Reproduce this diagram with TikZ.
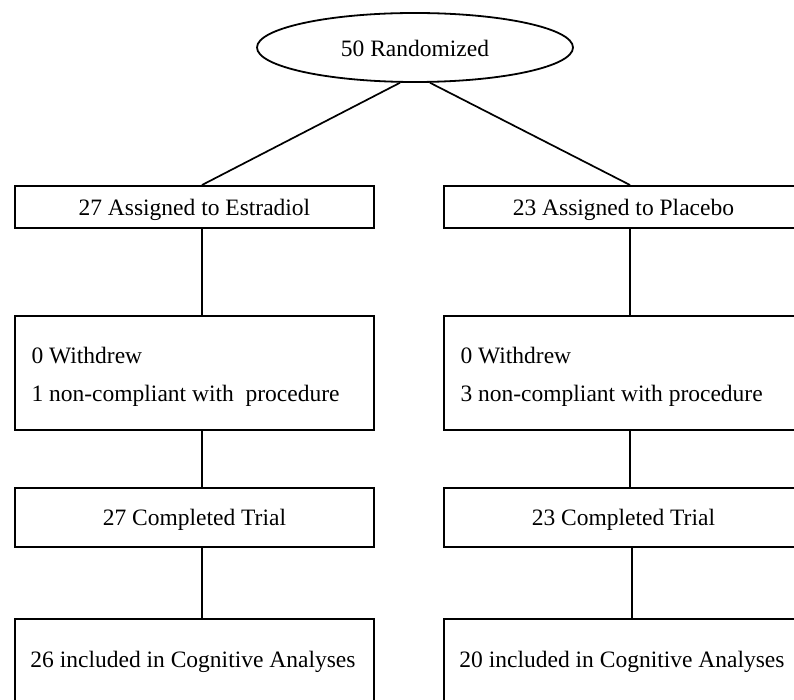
\documentclass[tikz,border=0pt]{standalone}
\usepackage{fontspec}
\setmainfont{Liberation Serif}
\usetikzlibrary{shapes.geometric}
\begin{document}
\begin{tikzpicture}[x=1pt,y=-1pt,
  every node/.style={font=\fontsize{23.5}{38}\selectfont},
  box/.style={draw,line width=1.8pt,rectangle,inner sep=0pt,anchor=north west},
  conn/.style={line width=1.7pt}]
\useasboundingbox (0,0) rectangle (794,700);
\clip (0,0) rectangle (794,700);
\fill[white] (0,0) rectangle (794,700);
% ellipse
\node[draw,ellipse,line width=1.8pt,minimum width=316pt,minimum height=69pt,inner sep=0pt] (e) at (415,47.5) {};
\node (et) at ([yshift=-1pt]e.center) {50 Randomized};
% left column
\node[box,minimum width=359pt,minimum height=42pt] (l1) at (14,185) {};
\node (l1t) at ([yshift=-3pt]l1.center) {27 Assigned to Estradiol};
\node[box,minimum width=359pt,minimum height=114pt] (l2) at (14,315) {};
\node[anchor=west,align=left] (l2t) at ([xshift=14pt,yshift=-4pt]l2.west) {0 Withdrew\\1 non-compliant with\ \ procedure};
\node[box,minimum width=359pt,minimum height=59pt] (l3) at (14,487) {};
\node (l3t) at ([yshift=-2pt]l3.center) {27 Completed Trial};
\node[box,minimum width=359pt,minimum height=90pt] (l4) at (14,618) {};
\node (l4t) at (193,662) {26 included in Cognitive Analyses};
% right column
\node[box,minimum width=359pt,minimum height=42pt] (r1) at (443,185) {};
\node (r1t) at ([yshift=-3pt]r1.center) {23 Assigned to Placebo};
\node[box,minimum width=359pt,minimum height=114pt] (r2) at (443,315) {};
\node[anchor=west,align=left] (r2t) at ([xshift=14pt,yshift=-4pt]r2.west) {0 Withdrew\\3 non-compliant with procedure};
\node[box,minimum width=359pt,minimum height=59pt] (r3) at (443,487) {};
\node (r3t) at ([yshift=-2pt]r3.center) {23 Completed Trial};
\node[box,minimum width=359pt,minimum height=90pt] (r4) at (443,618) {};
\node (r4t) at (622,662) {20 included in Cognitive Analyses};
% connector columns
\coordinate (cl) at (202,0);
\coordinate (cr) at (630,0);
\coordinate (crb) at (632,0);
\draw[conn] (e.247) -- (l1.north -| cl);
\draw[conn] (e.293) -- (r1.north -| cr);
\draw[conn] (l1.south -| cl) -- (l2.north -| cl);
\draw[conn] (l2.south -| cl) -- (l3.north -| cl);
\draw[conn] (l3.south -| cl) -- (l4.north -| cl);
\draw[conn] (r1.south -| cr) -- (r2.north -| cr);
\draw[conn] (r2.south -| cr) -- (r3.north -| cr);
\draw[conn] (r3.south -| crb) -- (r4.north -| crb);
\end{tikzpicture}
\end{document}
